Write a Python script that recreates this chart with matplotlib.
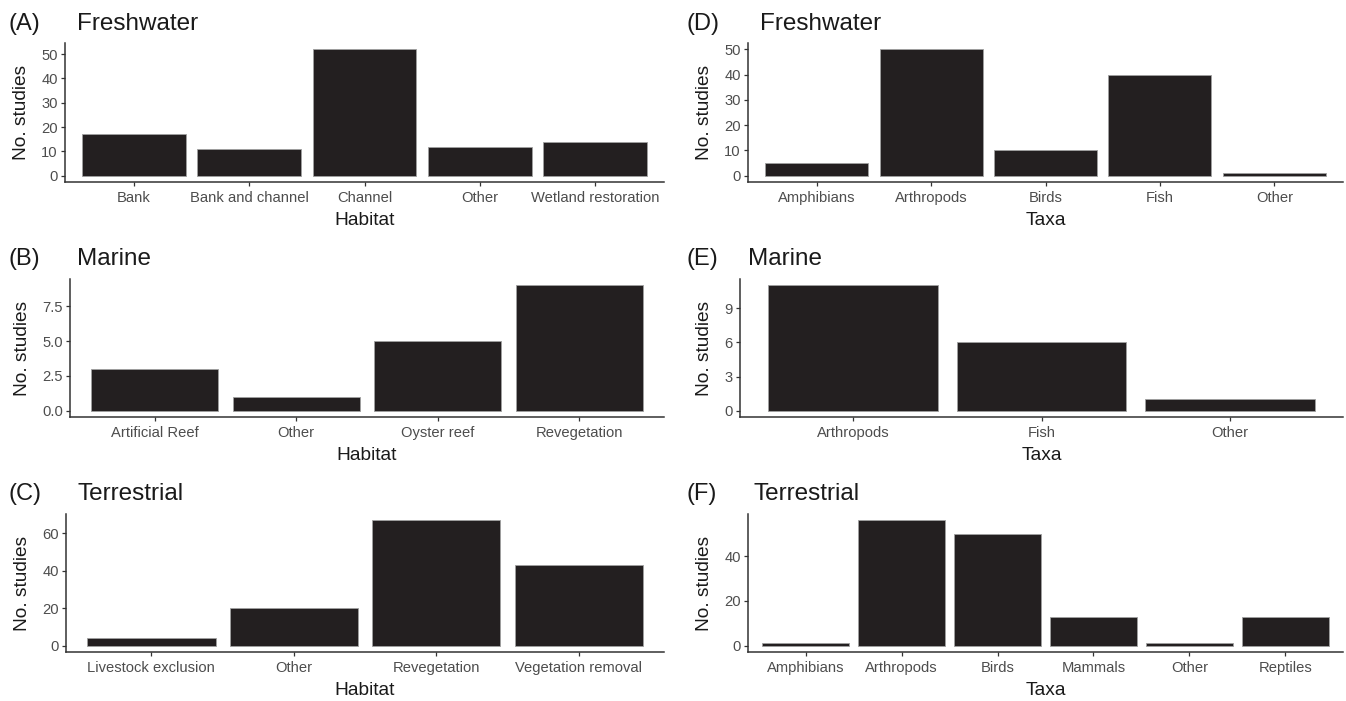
import matplotlib.pyplot as plt

plt.rcParams['font.family'] = ['Liberation Sans', 'DejaVu Sans']

# ---- data ----
fw_habitat = ["Bank", "Bank and channel", "Channel", "Other", "Wetland restoration"]
fw_habitat_n = [17, 11, 52, 12, 14]
mar_habitat = ["Artificial Reef", "Other", "Oyster reef", "Revegetation"]
mar_habitat_n = [3, 1, 5, 9]
ter_habitat = ["Livestock exclusion", "Other", "Revegetation", "Vegetation removal"]
ter_habitat_n = [4, 20, 67, 43]

fw_taxa = ["Amphibians", "Arthropods", "Birds", "Fish", "Other"]
fw_taxa_n = [5, 50, 10, 40, 1]
mar_taxa = ["Arthropods", "Fish", "Other"]
mar_taxa_n = [11, 6, 1]
ter_taxa = ["Amphibians", "Arthropods", "Birds", "Mammals", "Other", "Reptiles"]
ter_taxa_n = [1, 56, 50, 13, 1, 13]

ticks_a = [0, 10, 20, 30, 40, 50]
ticks_b = [0, 2.5, 5.0, 7.5]
ticks_b_lab = ["0.0", "2.5", "5.0", "7.5"]
ticks_c = [0, 20, 40, 60]
ticks_e = [0, 3, 6, 9]
ticks_f = [0, 20, 40]

W, H = 1346, 701
fig = plt.figure(figsize=(W / 100, H / 100), dpi=100)

BAR = "#231f20"
AX = "#333333"
TXT = "#4d4d4d"


def panel(box, cats, vals, yticks, ylabels, xlabel, tag, title, tag_x, title_x, title_y):
    l, t, r, b = box
    ax = fig.add_axes([l / W, 1 - b / H, (r - l) / W, (b - t) / H])
    x = list(range(len(cats)))
    ax.bar(x, vals, width=0.9, color=BAR, edgecolor="#a0a0a0", linewidth=0.6)
    vmax = max(vals)
    ax.set_ylim(-0.05 * vmax, 1.05 * vmax)
    ax.set_xlim(-0.6, len(cats) - 0.4)
    ax.set_xticks(x)
    ax.set_xticklabels(cats)
    ax.set_yticks(yticks)
    ax.set_yticklabels(ylabels if ylabels else [str(v) for v in yticks])
    for s in ["top", "right"]:
        ax.spines[s].set_visible(False)
    for s in ["left", "bottom"]:
        ax.spines[s].set_color(AX)
        ax.spines[s].set_linewidth(1.1)
    ax.tick_params(direction="out", length=3.2, width=0.9, color=AX,
                   labelcolor=TXT, labelsize=10.6)
    ax.tick_params(axis="x", pad=3.5)
    ax.tick_params(axis="y", pad=2)
    ax.set_xlabel(xlabel, fontsize=13.8, color="#1a1a1a", labelpad=5)
    ax.set_ylabel("No. studies", fontsize=13.8, color="#1a1a1a", labelpad=8)
    fig.text(tag_x / W, 1 - title_y / H, tag, fontsize=17, color="#1a1a1a",
             ha="left", va="baseline")
    fig.text(title_x / W, 1 - title_y / H, title, fontsize=17.5, color="#1a1a1a",
             ha="left", va="baseline")
    return ax


panel((65, 43, 664, 182), fw_habitat, fw_habitat_n, ticks_a, None, "Habitat",
      "(A)", "Freshwater", 9, 77, 30)
panel((70, 279, 664, 417), mar_habitat, mar_habitat_n, ticks_b, ticks_b_lab, "Habitat",
      "(B)", "Marine", 9, 77, 265)
panel((66, 514, 664, 652), ter_habitat, ter_habitat_n, ticks_c, None, "Habitat",
      "(C)", "Terrestrial", 9, 77, 500)
panel((748, 43, 1343, 182), fw_taxa, fw_taxa_n, ticks_a, None, "Taxa",
      "(D)", "Freshwater", 687, 760, 30)
panel((740, 279, 1343, 417), mar_taxa, mar_taxa_n, ticks_e, None, "Taxa",
      "(E)", "Marine", 687, 748, 265)
panel((748, 514, 1343, 652), ter_taxa, ter_taxa_n, ticks_f, None, "Taxa",
      "(F)", "Terrestrial", 687, 754, 500)

fig.savefig("out.png", dpi=100)
